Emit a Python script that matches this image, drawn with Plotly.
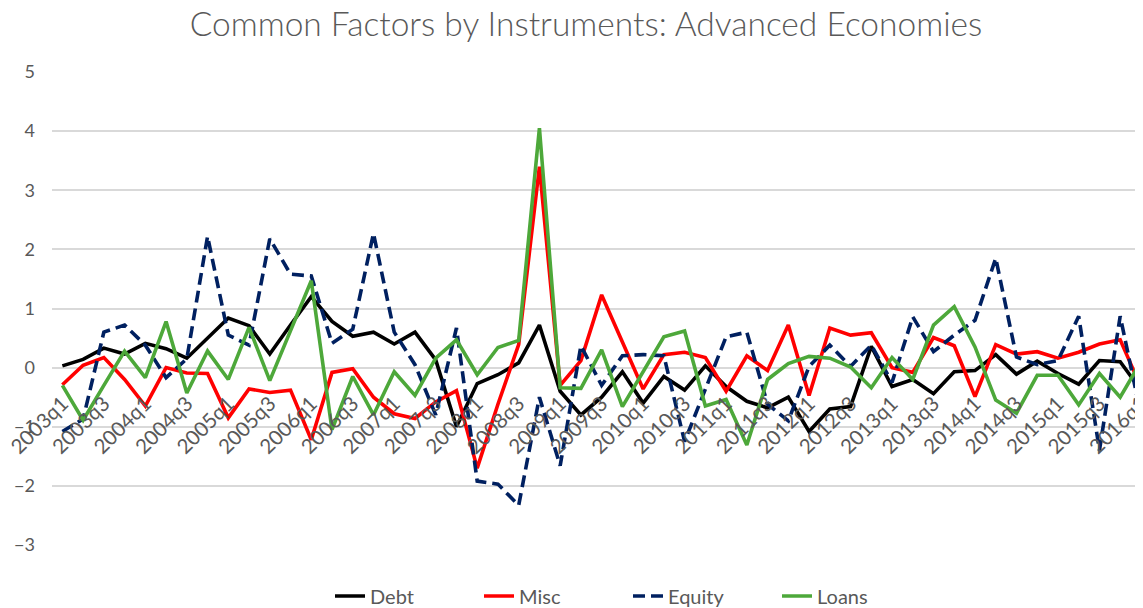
import plotly.graph_objects as go

quarters = [
    "2003q1", "2003q2", "2003q3", "2003q4", "2004q1", "2004q2", "2004q3", "2004q4",
    "2005q1", "2005q2", "2005q3", "2005q4", "2006q1", "2006q2", "2006q3", "2006q4",
    "2007q1", "2007q2", "2007q3", "2007q4", "2008q1", "2008q2", "2008q3", "2008q4",
    "2009q1", "2009q2", "2009q3", "2009q4", "2010q1", "2010q2", "2010q3", "2010q4",
    "2011q1", "2011q2", "2011q3", "2011q4", "2012q1", "2012q2", "2012q3", "2012q4",
    "2013q1", "2013q2", "2013q3", "2013q4", "2014q1", "2014q2", "2014q3", "2014q4",
    "2015q1", "2015q2", "2015q3", "2015q4", "2016q1",
]

debt = [0.03, 0.14, 0.33, 0.23, 0.41, 0.32, 0.16, 0.50, 0.84, 0.71,
        0.23, 0.72, 1.20, 0.78, 0.53, 0.60, 0.40, 0.60, 0.13, -1.00,
        -0.27, -0.12, 0.08, 0.72, -0.40, -0.80, -0.50, -0.07, -0.60, -0.15,
        -0.38, 0.03, -0.32, -0.57, -0.68, -0.50, -1.08, -0.70, -0.66, 0.36,
        -0.32, -0.20, -0.44, -0.07, -0.05, 0.22, -0.11, 0.11, -0.10, -0.28,
        0.12, 0.10, -0.38]

misc = [-0.29, 0.04, 0.17, -0.20, -0.65, 0.00, -0.09, -0.10, -0.85, -0.36,
        -0.42, -0.38, -1.22, -0.08, -0.02, -0.50, -0.78, -0.86, -0.58, -0.39,
        -1.70, -0.62, 0.39, 3.40, -0.30, 0.12, 1.23, 0.45, -0.36, 0.22,
        0.26, 0.17, -0.40, 0.20, -0.05, 0.72, -0.47, 0.67, 0.55, 0.59,
        0.00, -0.08, 0.51, 0.37, -0.49, 0.39, 0.23, 0.27, 0.16, 0.26,
        0.40, 0.47, -0.33]

equity = [-1.08, -0.87, 0.60, 0.72, 0.38, -0.17, 0.15, 2.22, 0.55, 0.38,
          2.18, 1.58, 1.55, 0.41, 0.65, 2.27, 0.60, 0.05, -0.80, 0.67,
          -1.92, -1.97, -2.33, -0.50, -1.66, 0.37, -0.30, 0.20, 0.22, 0.20,
          -1.25, -0.35, 0.52, 0.60, -0.62, -0.90, 0.02, 0.38, 0.02, 0.38,
          -0.25, 0.86, 0.27, 0.55, 0.80, 1.85, 0.18, 0.05, 0.12, 0.87,
          -1.40, 0.87, -0.80]

loans = [-0.30, -0.89, -0.30, 0.28, -0.17, 0.78, -0.43, 0.28, -0.20, 0.68,
         -0.22, 0.61, 1.47, -1.05, -0.15, -0.80, -0.07, -0.47, 0.16, 0.47,
         -0.12, 0.34, 0.46, 4.05, -0.34, -0.35, 0.30, -0.66, -0.06, 0.52,
         0.62, -0.65, -0.54, -1.31, -0.20, 0.07, 0.19, 0.16, 0.01, -0.34,
         0.17, -0.20, 0.72, 1.03, 0.35, -0.55, -0.77, -0.13, -0.13, -0.63,
         -0.10, -0.50, 0.10]

tick_labels = quarters[::2]
y_ticks = [-3, -2, -1, 0, 1, 2, 3, 4, 5]

FONT = "Lato, 'Open Sans', sans-serif"
GREY = "#595959"

series = [
    ("Debt", debt, "#000000", "solid"),
    ("Misc", misc, "#FF0000", "solid"),
    ("Equity", equity, "#002060", "12px,6px"),
    ("Loans", loans, "#4DA83A", "solid"),
]

fig = go.Figure()
for name, vals, color, dash in series:
    fig.add_trace(go.Scatter(
        x=quarters, y=vals, mode="lines", name=name,
        line=dict(color=color, width=3.6, dash=dash),
    ))

W, H = 1135, 600
fig.update_layout(
    width=W, height=H,
    paper_bgcolor="white", plot_bgcolor="white",
    margin=dict(l=44, r=0, t=64, b=63),
    font=dict(family=FONT, color=GREY),
    title=dict(
        text="Common Factors by Instruments: Advanced Economies",
        x=578 / W, xref="container", xanchor="center",
        y=1 - 16 / H, yref="container", yanchor="middle",
        font=dict(family=FONT, size=33.5, color=GREY, weight=300),
    ),
    legend=dict(
        orientation="h", xref="container", yref="container",
        x=620 / W, xanchor="center", y=(H - 588) / H, yanchor="middle",
        font=dict(family=FONT, size=20, color=GREY),
        traceorder="normal", entrywidth=104,
    ),
    showlegend=True,
)

fig.update_xaxes(
    type="category", range=[-0.5, 52.1],
    tickmode="array", tickvals=tick_labels, ticktext=tick_labels,
    tickangle=-45, ticks="", showgrid=False, showline=False, zeroline=False,
    anchor="free", position=3 / 8, automargin=False, ticklabelstandoff=19,
    tickfont=dict(family=FONT, size=20.5, color=GREY),
)
fig.update_yaxes(
    range=[-3, 5], tickvals=y_ticks, showgrid=True, gridcolor="#D9D9D9",
    gridwidth=1.5, zeroline=False, showline=False, ticks="",
    automargin=False, ticklabelstandoff=16,
    tickfont=dict(family=FONT, size=18, color=GREY),
)

fig.write_html("out.html")
